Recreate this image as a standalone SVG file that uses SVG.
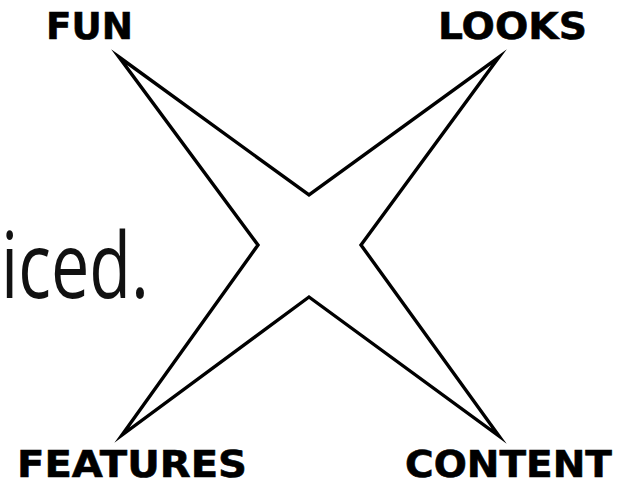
<svg xmlns="http://www.w3.org/2000/svg" width="625" height="483" viewBox="0 0 625 483">
<style>
.lbl{font-family:"DejaVu Sans","Verdana",sans-serif;font-weight:bold;font-size:38px;fill:#000;stroke:#000;stroke-width:0.6}
.big{font-family:"Open Sans","Noto Sans",sans-serif;font-size:92px;fill:#111}
.star{fill:#fff;stroke:#000;stroke-width:3.4;stroke-linejoin:miter;stroke-miterlimit:20}
</style>
<rect width="625" height="483" fill="#fff"/>
<g id="caption"><text class="big" x="1" y="298" textLength="148" lengthAdjust="spacingAndGlyphs">iced.</text></g>
<g id="connectors">
<polygon id="star" class="star" points="119,57 309,195 499,57 361,245 499,436 309,297 122,435 258,245"/>
</g>
<g id="fun"><text class="lbl" x="46" y="39" textLength="87" lengthAdjust="spacingAndGlyphs">FUN</text></g>
<g id="looks"><text class="lbl" x="438" y="39" textLength="149" lengthAdjust="spacingAndGlyphs">LOOKS</text></g>
<g id="features"><text class="lbl" x="17" y="477" textLength="230" lengthAdjust="spacingAndGlyphs">FEATURES</text></g>
<g id="content"><text class="lbl" x="405" y="477" textLength="207" lengthAdjust="spacingAndGlyphs">CONTENT</text></g>
</svg>
